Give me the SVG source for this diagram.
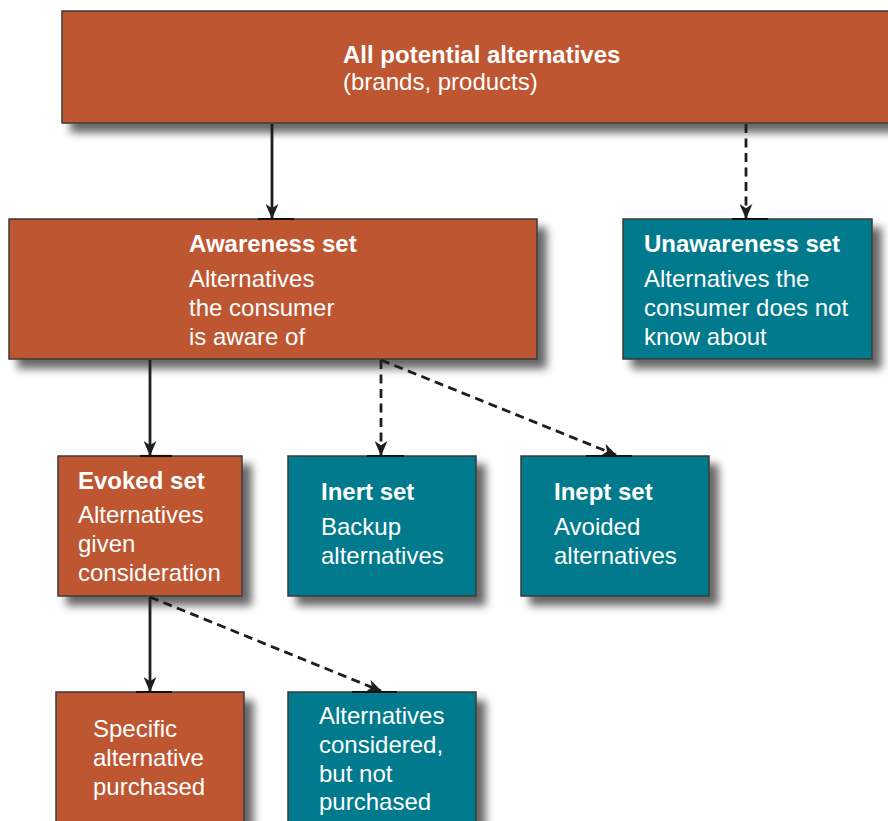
<svg xmlns="http://www.w3.org/2000/svg" width="888" height="821" viewBox="0 0 888 821">
<style>
.box{stroke:#3a3a3a;stroke-width:1.5;filter:url(#sh)}
.or{fill:#BE5733}
.te{fill:#007A8C}
text{font-family:"Liberation Sans",Arial,Helvetica,sans-serif;font-size:24px;fill:#ffffff}
.b{font-weight:bold}
.c{stroke:#1e1e1e;stroke-width:2.8;fill:none}
.d{stroke-dasharray:9,5.5}
.tick{stroke:#111;stroke-width:2.2}
</style>
<defs>
<filter id="sh" x="-10%" y="-10%" width="130%" height="140%">
<feGaussianBlur in="SourceAlpha" stdDeviation="4"/>
<feOffset dx="9" dy="9" result="o"/>
<feComponentTransfer><feFuncA type="linear" slope="0.6"/></feComponentTransfer>
<feMerge><feMergeNode/><feMergeNode in="SourceGraphic"/></feMerge>
</filter>
<marker id="ah" viewBox="0 0 14 12" refX="13" refY="6" markerWidth="15" markerHeight="13" markerUnits="userSpaceOnUse" orient="auto">
<path d="M0,0 L14,6 L0,12 L4,6 z" fill="#1e1e1e"/>
</marker>
</defs>

<g id="all">
<rect class="box or" x="62" y="11" width="840" height="112"/>
<text class="b" x="343" y="63">All potential alternatives</text>
<text x="343" y="90">(brands, products)</text>
</g>

<g id="awareness">
<rect class="box or" x="9" y="219" width="528" height="140"/>
<text class="b" x="189" y="252">Awareness set</text>
<text x="189" y="287">Alternatives</text>
<text x="189" y="316">the consumer</text>
<text x="189" y="345">is aware of</text>
</g>

<g id="unawareness">
<rect class="box te" x="623" y="219" width="249" height="140"/>
<text class="b" x="644" y="252">Unawareness set</text>
<text x="644" y="287">Alternatives the</text>
<text x="644" y="316">consumer does not</text>
<text x="644" y="345">know about</text>
</g>

<g id="evoked">
<rect class="box or" x="58" y="456" width="184" height="140"/>
<text class="b" x="78" y="489">Evoked set</text>
<text x="78" y="523">Alternatives</text>
<text x="78" y="552">given</text>
<text x="78" y="581">consideration</text>
</g>

<g id="inert">
<rect class="box te" x="288" y="456" width="188" height="140"/>
<text class="b" x="321" y="500">Inert set</text>
<text x="321" y="535">Backup</text>
<text x="321" y="564">alternatives</text>
</g>

<g id="inept">
<rect class="box te" x="521" y="456" width="188" height="140"/>
<text class="b" x="554" y="500">Inept set</text>
<text x="554" y="535">Avoided</text>
<text x="554" y="564">alternatives</text>
</g>

<g id="purchased">
<rect class="box or" x="56" y="692" width="188" height="150"/>
<text x="93" y="737">Specific</text>
<text x="93" y="766">alternative</text>
<text x="93" y="795">purchased</text>
</g>

<g id="notpurchased">
<rect class="box te" x="288" y="692" width="188" height="150"/>
<text x="319" y="724">Alternatives</text>
<text x="319" y="753">considered,</text>
<text x="319" y="782">but not</text>
<text x="319" y="810">purchased</text>
</g>

<g id="connectors">
<line class="c" x1="272" y1="124" x2="272" y2="218" marker-end="url(#ah)"/>
<line class="c d" x1="746" y1="124" x2="746" y2="218" marker-end="url(#ah)"/>
<line class="c" x1="150" y1="360" x2="150" y2="455" marker-end="url(#ah)"/>
<line class="c d" x1="381" y1="360" x2="381" y2="455" marker-end="url(#ah)"/>
<line class="c d" x1="381" y1="360" x2="616" y2="455" marker-end="url(#ah)"/>
<line class="c" x1="150" y1="597" x2="150" y2="691" marker-end="url(#ah)"/>
<line class="c d" x1="150" y1="597" x2="381" y2="691" marker-end="url(#ah)"/>
<line class="tick" x1="258" y1="219" x2="294" y2="219"/>
<line class="tick" x1="732" y1="219" x2="768" y2="219"/>
<line class="tick" x1="140" y1="456" x2="172" y2="456"/>
<line class="tick" x1="367" y1="456" x2="404" y2="456"/>
<line class="tick" x1="586" y1="456" x2="632" y2="456"/>
<line class="tick" x1="136" y1="692" x2="172" y2="692"/>
<line class="tick" x1="352" y1="692" x2="397" y2="692"/>
</g>
</svg>
